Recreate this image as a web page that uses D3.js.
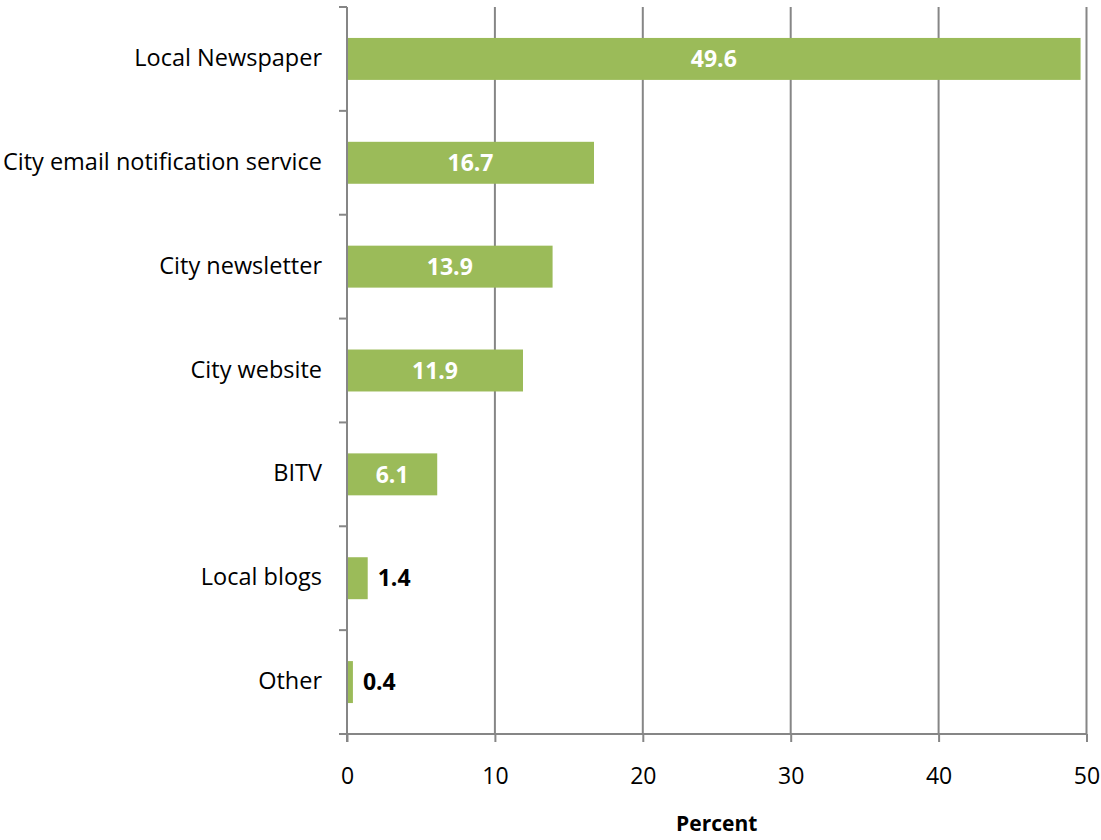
<!DOCTYPE html>
<html>
<head>
<meta charset="utf-8">
<script src="https://cdn.jsdelivr.net/npm/d3@7"></script>
<style>
  html, body { margin: 0; padding: 0; background: #fff; }
  svg { display: block; font-family: "Open Sans", sans-serif; }
</style>
</head>
<body>
<svg id="chart" width="1101" height="840"></svg>
<script>
const categories = ["Local Newspaper", "City email notification service", "City newsletter", "City website", "BITV", "Local blogs", "Other"];
const values = [49.6, 16.7, 13.9, 11.9, 6.1, 1.4, 0.4];
const xTicks = [0, 10, 20, 30, 40, 50];
const xTitle = "Percent";

(function () {
const svg = d3.select("#chart");
const L = 347, R = 1086.5, T = 7, B = 734;

const x = d3.scaleLinear().domain([0, 50]).range([L, R]);
const y = d3.scaleBand().domain(categories).range([T, B]).paddingInner(0.596).paddingOuter(0.298);
const yEdges = d3.scaleLinear().domain([0, categories.length]).range([T, B]);

const gridColor = "#868686";

svg.append("g").selectAll("line").data(xTicks.filter(d => d > 0)).join("line")
  .attr("x1", d => x(d)).attr("x2", d => x(d))
  .attr("y1", T).attr("y2", B)
  .attr("stroke", gridColor).attr("stroke-width", 2);

svg.append("g").selectAll("rect").data(values).join("rect")
  .attr("x", x(0))
  .attr("y", (d, i) => y(categories[i]))
  .attr("width", d => x(d) - x(0))
  .attr("height", y.bandwidth())
  .attr("fill", "#9BBB59");

svg.append("line").attr("x1", L).attr("x2", L).attr("y1", T).attr("y2", B + 8)
  .attr("stroke", gridColor).attr("stroke-width", 2);
svg.append("g").selectAll("line").data(d3.range(categories.length + 1)).join("line")
  .attr("x1", L - 8).attr("x2", L)
  .attr("y1", d => yEdges(d)).attr("y2", d => yEdges(d))
  .attr("stroke", gridColor).attr("stroke-width", 2);

const xAxis = d3.axisBottom(x).tickValues(xTicks).tickSize(8).tickPadding(26).tickFormat(d3.format("d"));
const gx = svg.append("g").attr("transform", `translate(0,${B})`).call(xAxis);
gx.select(".domain").attr("stroke", gridColor).attr("stroke-width", 2).attr("d", `M${L - 8},0H${R}`);
gx.selectAll(".tick line").attr("stroke", gridColor).attr("stroke-width", 2);
gx.selectAll(".tick text").attr("fill", "#000").style("font-size", "23px").style("font-family", "'Open Sans', sans-serif");

svg.append("g").selectAll("text").data(categories).join("text")
  .attr("x", 322)
  .attr("y", d => y(d) + y.bandwidth() / 2)
  .attr("dy", "0.3em")
  .attr("text-anchor", "end")
  .style("font-size", "23.5px")
  .attr("fill", "#000")
  .text(d => d);

svg.append("g").selectAll("text").data(values).join("text")
  .attr("x", d => d > 5 ? (x(0) + x(d)) / 2 : x(d) + 10)
  .attr("y", (d, i) => y(categories[i]) + y.bandwidth() / 2)
  .attr("dy", "0.36em")
  .attr("text-anchor", d => d > 5 ? "middle" : "start")
  .style("font-size", "23px")
  .style("font-weight", "bold")
  .attr("fill", d => d > 5 ? "#fff" : "#000")
  .text(d => d3.format(".1f")(d));

svg.append("text")
  .attr("x", (L + R) / 2)
  .attr("y", 831)
  .attr("text-anchor", "middle")
  .style("font-size", "21px")
  .style("font-weight", "bold")
  .text(xTitle);
})();
</script>
</body>
</html>
